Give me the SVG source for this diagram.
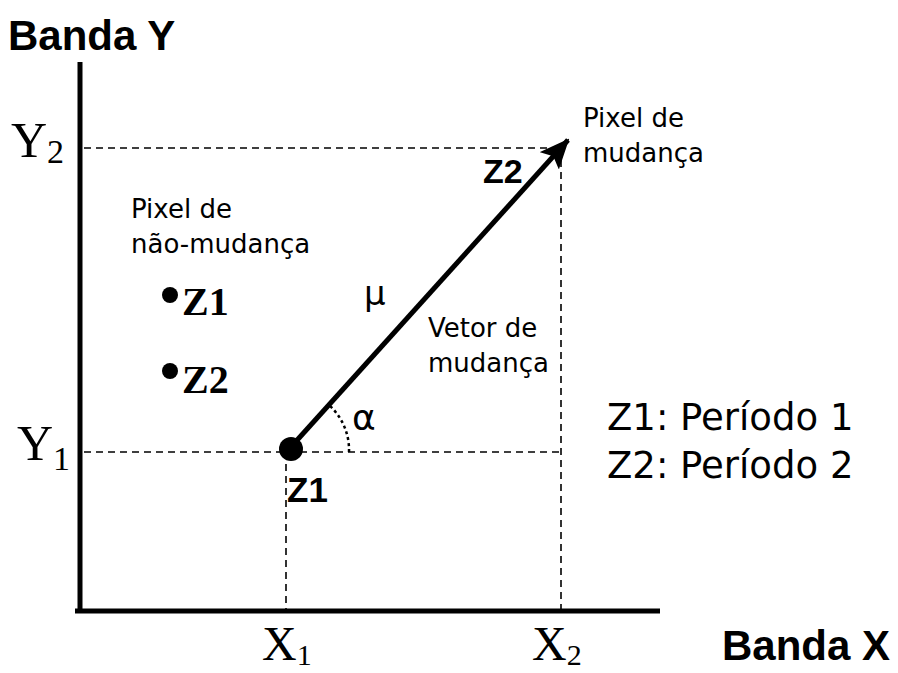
<svg xmlns="http://www.w3.org/2000/svg" width="898" height="673" viewBox="0 0 898 673">
<style>
.axis{stroke:#000;stroke-width:5;fill:none}
.dash{stroke:#000;stroke-width:1.6;stroke-dasharray:7 5;fill:none}
.bold{font-family:"Liberation Sans",Arial,sans-serif;font-weight:bold;fill:#000}
.serif{font-family:"Liberation Serif","Times New Roman",serif;fill:#000}
.sans{font-family:"DejaVu Sans",Verdana,sans-serif;fill:#000}
.sm{font-size:26px}
</style>
<defs>
<marker id="head" viewBox="0 0 30 26" refX="28" refY="13" markerWidth="30" markerHeight="26" orient="auto" markerUnits="userSpaceOnUse">
<path d="M0,0 L30,13 L0,26 L6,13 z" fill="#000"/>
</marker>
</defs>
<rect width="898" height="673" fill="#fff"/>
<g id="connectors">
<line class="axis" x1="80" y1="62" x2="80" y2="613"/>
<line class="axis" x1="75" y1="611" x2="660" y2="611"/>
<line class="dash" x1="84" y1="148" x2="561" y2="148"/>
<line class="dash" x1="84" y1="452" x2="561" y2="452"/>
<line class="dash" x1="286" y1="452" x2="286" y2="609"/>
<line class="dash" x1="561" y1="148" x2="561" y2="609"/>
<line x1="290" y1="448" x2="568" y2="140" stroke="#000" stroke-width="5" marker-end="url(#head)"/>
<path d="M349,452 A60,60 0 0 0 330,406" stroke="#000" stroke-width="2.5" stroke-dasharray="3 3" fill="none"/>
</g>
<g id="labels">
<text class="bold" x="8" y="50" font-size="42">Banda Y</text>
<text class="bold" x="890" y="660" font-size="42" text-anchor="end">Banda X</text>
<text class="serif" x="11" y="157" font-size="50">Y<tspan font-size="34" dy="6">2</tspan></text>
<text class="serif" x="17" y="460" font-size="50">Y<tspan font-size="34" dy="10">1</tspan></text>
<text class="serif" x="262" y="660" font-size="48">X<tspan font-size="30" dy="5">1</tspan></text>
<text class="serif" x="532" y="660" font-size="48">X<tspan font-size="30" dy="5">2</tspan></text>
</g>
<g id="change-pixel">
<text class="sans sm" x="583" y="127">Pixel de</text>
<text class="sans sm" x="583" y="162">mudança</text>
<text class="bold" x="483" y="183" font-size="34">Z2</text>
</g>
<g id="start-pixel">
<circle cx="291" cy="449" r="12" fill="#000"/>
<text class="bold" x="287" y="502" font-size="35">Z1</text>
</g>
<g id="no-change">
<text class="sans sm" x="131" y="218">Pixel de</text>
<text class="sans sm" x="131" y="253">não-mudança</text>
<circle cx="170" cy="295" r="8" fill="#000"/>
<text class="serif" x="182" y="315" font-size="40" font-weight="bold">Z1</text>
<circle cx="170" cy="371" r="8" fill="#000"/>
<text class="serif" x="182" y="393" font-size="40" font-weight="bold">Z2</text>
</g>
<g id="vector-labels">
<text class="sans" x="364" y="305" font-size="34">μ</text>
<text class="sans sm" x="428" y="337">Vetor de</text>
<text class="sans sm" x="428" y="372">mudança</text>
<text class="sans" x="352" y="430" font-size="36">α</text>
</g>
<g id="legend">
<text class="sans" x="607" y="430" font-size="37">Z1: Período 1</text>
<text class="sans" x="607" y="478" font-size="37">Z2: Período 2</text>
</g>
</svg>
